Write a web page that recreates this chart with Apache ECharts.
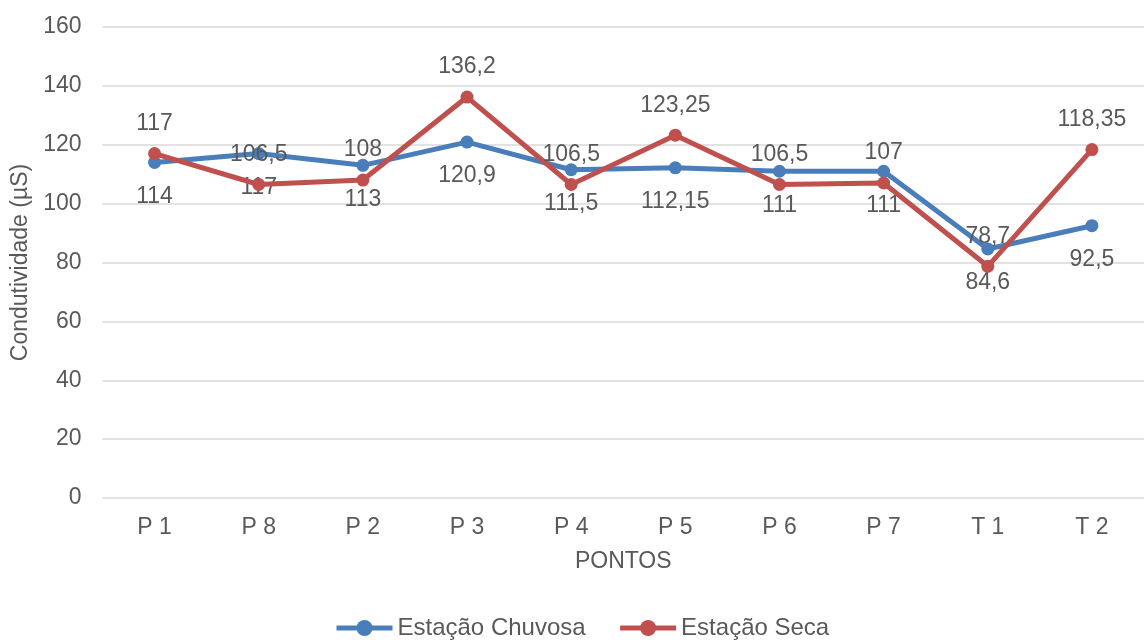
<!DOCTYPE html>
<html>
<head>
<meta charset="utf-8">
<script src="https://cdn.jsdelivr.net/npm/echarts@6/dist/echarts.min.js"></script>
<style>
  html, body { margin: 0; padding: 0; background: #fff; }
  #chart { width: 1144px; height: 642px; }
</style>
</head>
<body>
<div id="chart"></div>
<script>
// Sampling points
const categories = ['P 1', 'P 8', 'P 2', 'P 3', 'P 4', 'P 5', 'P 6', 'P 7', 'T 1', 'T 2'];
// Conductivity (µS) per season
const chuvosa = [114, 117, 113, 120.9, 111.5, 112.15, 111, 111, 84.6, 92.5];
const seca = [117, 106.5, 108, 136.2, 106.5, 123.25, 106.5, 107, 78.7, 118.35];
const yTicks = { min: 0, max: 160, interval: 20 };

const FONT = '"Liberation Sans", Arial, sans-serif';
const TEXT = '#595959';
const FS = 23;
const fmt = v => String(v).replace('.', ',');

const chart = echarts.init(document.getElementById('chart'), null, { renderer: 'canvas' });

function lineSeries(name, data, color, pos, dist, z) {
  return {
    name, type: 'line', data, z,
    symbol: 'circle', symbolSize: 13,
    lineStyle: { width: 5, color },
    itemStyle: { color },
    label: {
      show: true, position: pos, distance: dist,
      color: TEXT, fontSize: FS, fontFamily: FONT,
      formatter: p => fmt(p.value)
    }
  };
}

chart.setOption({
  animation: false,
  textStyle: { fontFamily: FONT },
  grid: { left: 102.5, right: -8.5, top: 27, bottom: 144, containLabel: false },
  legend: {
    top: 611, left: 329,
    itemWidth: 56, itemHeight: 20, itemGap: 32,
    lineStyle: { width: 5 },
    textStyle: { color: TEXT, fontSize: 24, fontFamily: FONT },
    data: ['Estação Chuvosa', 'Estação Seca']
  },
  xAxis: {
    type: 'category', data: categories, boundaryGap: true,
    name: 'PONTOS', nameLocation: 'middle', nameGap: 52,
    nameTextStyle: { color: TEXT, fontSize: FS, fontFamily: FONT },
    axisLine: { show: false }, axisTick: { show: false },
    axisLabel: { color: TEXT, fontSize: FS, margin: 18, fontFamily: FONT }
  },
  yAxis: {
    type: 'value', min: yTicks.min, max: yTicks.max, interval: yTicks.interval,
    name: 'Condutividade (µS)', nameLocation: 'middle', nameGap: 70,
    nameTextStyle: { color: TEXT, fontSize: FS, fontFamily: FONT },
    axisLine: { show: false }, axisTick: { show: false },
    axisLabel: { color: TEXT, fontSize: FS, margin: 21, fontFamily: FONT },
    splitLine: { lineStyle: { color: '#d9d9d9', width: 1.5 } }
  },
  series: [
    lineSeries('Estação Chuvosa', chuvosa, '#4a7ebb', 'bottom', 16, 2),
    lineSeries('Estação Seca', seca, '#c0504d', 'top', 12, 3)
  ]
});
</script>
</body>
</html>
